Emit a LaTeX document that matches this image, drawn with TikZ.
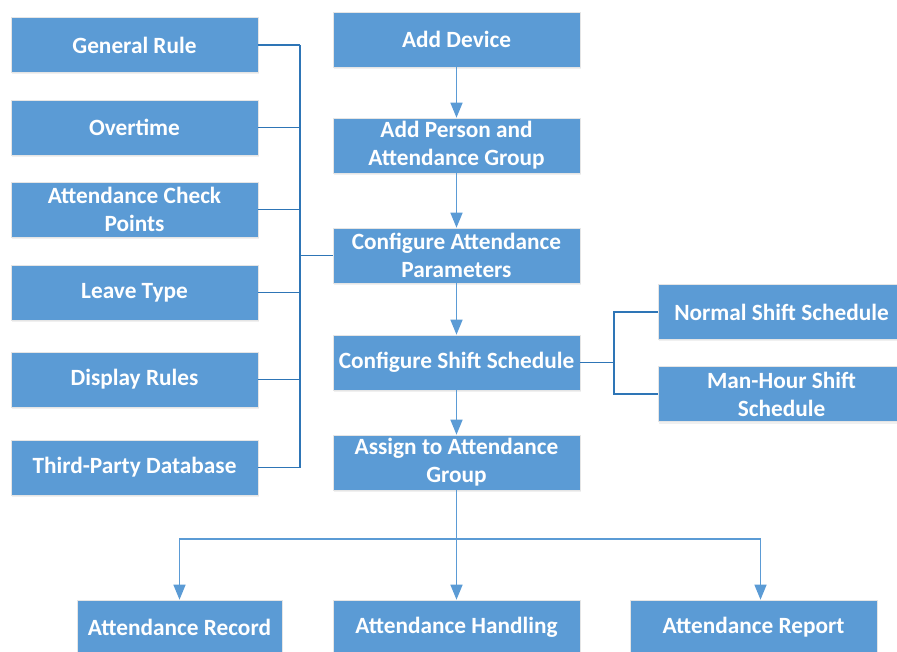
\documentclass[tikz,border=0pt]{standalone}
\usepackage{fontspec}
\setmainfont{Carlito}
\usetikzlibrary{positioning,arrows.meta,calc,shadows}
\definecolor{boxblue}{HTML}{5B9BD5}
\definecolor{linkblue}{HTML}{2E75B6}

\begin{document}
\begin{tikzpicture}[x=1pt, y=-1pt,
  box/.style={fill=boxblue, draw=black!10, line width=0.6pt, minimum width=247pt, minimum height=55pt,
              align=center, text=white, inner sep=2pt,
              font=\fontsize{23.3}{28}\selectfont\bfseries,
              drop shadow={opacity=0.12, shadow xshift=1pt, shadow yshift=-2pt}},
  arrow/.style={-{Triangle[length=15pt, width=12pt]}, boxblue, line width=1.4pt},
  link/.style={linkblue, line width=1.2pt}
]
  \useasboundingbox (0,0) rectangle (897,652);
  % left column
  \node[box] (general) at (134.5, 45) {General Rule};
  \node[box] (overtime) at (134.5, 127.5) {Overtime};
  \node[box] (checkpts) at (134.5, 209.5) {Attendance Check\\Points};
  \node[box] (leave) at (134.5, 292.5) {Leave Type};
  \node[box] (display) at (134.5, 379.5) {Display Rules};
  \node[box] (thirdparty) at (134.5, 467.5) {Third-Party Database};
  % main flow
  \node[box] (device) at (456.5, 39.5) {Add Device};
  \node[box] (person) at (456.5, 145.5) {Add Person and\\Attendance Group};
  \node[box] (params) at (456.5, 255.5) {Configure Attendance\\Parameters};
  \node[box] (shift) at (456.5, 362.5) {Configure Shift Schedule};
  \node[box] (assign) at (456.5, 462.5) {Assign to Attendance\\Group};
  % right column
  \node[box] (normal) at (781.5, 312) {Normal Shift Schedule};
  \node[box] (manhour) at (781.5, 394) {Man-Hour Shift\\Schedule};
  % bottom row
  \node[box, minimum width=205pt] (record) at (179.5, 627.5) {Attendance Record};
  \node[box] (handling) at (456.5, 627.5) {Attendance Handling};
  \node[box] (report) at (753.5, 627.5) {Attendance Report};

  \coordinate (lbus) at (300, 255.5);
  \coordinate (rbus) at (614, 362.5);
  \coordinate (split) at (456.5, 539);

  \draw[arrow] (device) -- (person);
  \draw[arrow] (person) -- (params);
  \draw[arrow] (params) -- (shift);
  \draw[arrow] (shift) -- (assign);
  \draw[arrow] (assign) -- (handling);
  \draw[arrow] (split) -| (record.north);
  \draw[arrow] (split) -| ([xshift=7pt]report.north);

  \foreach \n in {general, overtime, checkpts, leave, display, thirdparty}
    \draw[link] (\n.east) -- (\n.east -| lbus);
  \draw[link] (general.east -| lbus) -- (thirdparty.east -| lbus);
  \draw[link] (lbus) -- (params.west);

  \draw[link] (shift.east) -- (rbus);
  \draw[link] (normal.west) -| (rbus) |- (manhour.west);
\end{tikzpicture}
\end{document}
